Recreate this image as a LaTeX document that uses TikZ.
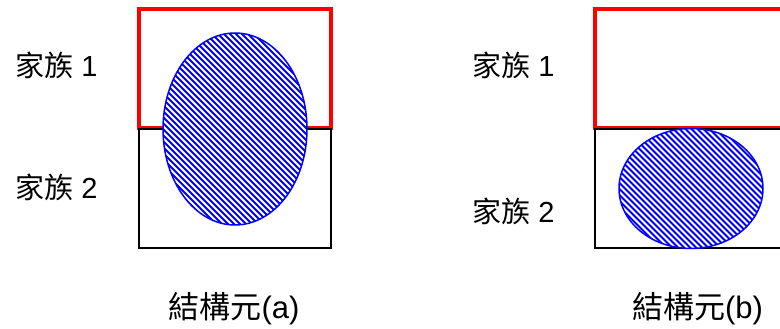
\documentclass[tikz,border=0pt]{standalone}
\usepackage{fontspec}
\setmainfont{Liberation Sans}
\newfontfamily\cjk{Noto Sans CJK TC}
\usetikzlibrary{calc}
\tikzset{
  fam/.style={draw=red, line width=3.2pt},
  famb/.style={draw=black, line width=1.8pt},
  blob/.style={draw=blue, line width=1.5pt},
  hatchline/.style={blue, line width=1.9pt},
  lab/.style={font=\fontsize{29}{32}\selectfont, inner sep=0pt},
  captext/.style={font=\fontsize{31}{34}\selectfont, inner sep=0pt},
}
\begin{document}
\begin{tikzpicture}[x=1pt,y=-1pt]
\useasboundingbox (0,0) rectangle (780,329);
\clip (0,0) rectangle (780,329);
% (a)
\coordinate (a1) at (139,9);
\coordinate (a2) at (331,128);
\coordinate (a3) at (139,129);
\coordinate (a4) at (331,248);
\draw[fam] (a1) rectangle (a2);
\draw[famb] (a3) rectangle (a4);
\coordinate (ea) at (235,129);
\fill[white] (ea) ellipse [x radius=72, y radius=96];
\begin{scope}
  \clip (ea) ellipse [x radius=72, y radius=96];
  \foreach \i in {-300,-294,...,300}
    \draw[hatchline] ($(ea)+(\i-150,-150)$) -- ($(ea)+(\i+150,150)$);
\end{scope}
\draw[blob] (ea) ellipse [x radius=72, y radius=96];
\node[lab, anchor=west] (fa1) at (15,65.5) {{\cjk 家族} 1};
\node[lab, anchor=west] (fa2) at (15,187) {{\cjk 家族} 2};
\node[captext] (ca) at (234,309) {{\cjk 結構元}(a)};
% (b)
\coordinate (b1) at (595,9);
\coordinate (b2) at (787,128);
\coordinate (b3) at (595,129);
\coordinate (b4) at (787,248);
\draw[fam] (b1) rectangle (b2);
\draw[famb] (b3) rectangle (b4);
\coordinate (eb) at (691,188.5);
\fill[white] (eb) ellipse [x radius=72, y radius=60];
\begin{scope}
  \clip (eb) ellipse [x radius=72, y radius=60];
  \foreach \i in {-300,-294,...,300}
    \draw[hatchline] ($(eb)+(\i-150,-150)$) -- ($(eb)+(\i+150,150)$);
\end{scope}
\draw[blob] (eb) ellipse [x radius=72, y radius=60];
\node[lab, anchor=west] (fb1) at (472,65.5) {{\cjk 家族} 1};
\node[lab, anchor=west] (fb2) at (472,211.5) {{\cjk 家族} 2};
\node[captext] (cb) at (697.5,309) {{\cjk 結構元}(b)};
\end{tikzpicture}
\end{document}
